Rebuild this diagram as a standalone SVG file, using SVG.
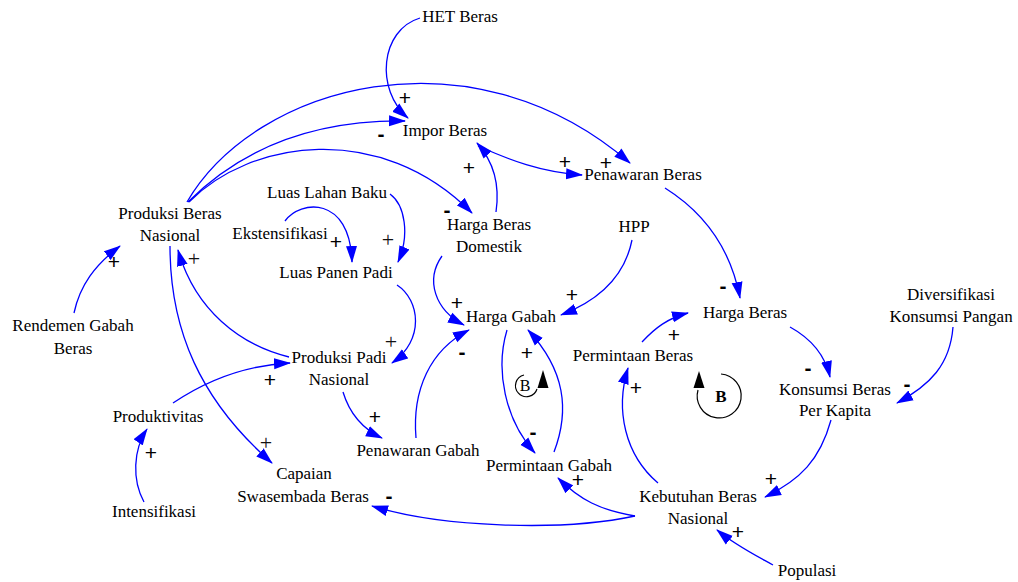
<svg xmlns="http://www.w3.org/2000/svg" width="1018" height="582" viewBox="0 0 1018 582">
<style>
text{font-family:"Liberation Serif","Times New Roman",serif;font-size:17px;fill:#000;text-anchor:middle}
.c path{fill:none;stroke:#0000ff;stroke-width:1.3;marker-end:url(#ah)}
.p{font-family:"Liberation Sans",Arial,sans-serif;font-size:21px;fill:#000}
.pt{font-family:"Liberation Serif","Times New Roman",serif;font-size:22px;fill:#111}
.m{font-family:"Liberation Sans",Arial,sans-serif;font-size:21px;font-weight:bold;fill:#000}
.loop{fill:none;stroke:#000;stroke-width:1.2}
</style>
<defs>
<marker id="ah" markerUnits="userSpaceOnUse" markerWidth="17" markerHeight="12" refX="16" refY="5.5" orient="auto" viewBox="0 0 17 11">
<path d="M0,0 L17,5.5 L0,11 z" fill="#0000ff"/>
</marker>
</defs>
<rect width="1018" height="582" fill="#fff"/>
<g id="connectors" class="c">
<path d="M420,18 C380,30 375,90 408,118"/>
<path d="M188,202 C245,145 320,120 405,121"/>
<path d="M187,202 C255,85 470,25 630,163"/>
<path d="M189,202 C250,140 380,120 472,213"/>
<path d="M478,146 C510,160 540,172 582,175"/>
<path d="M496,212 C500,185 494,162 477,143"/>
<path d="M390,194 C405,205 410,235 398,262"/>
<path d="M285,221 C300,200 350,195 352,262"/>
<path d="M397,285 C420,300 425,340 392,363"/>
<path d="M289,357 C240,345 195,310 178,250"/>
<path d="M170,246 C170,330 200,400 272,463"/>
<path d="M74,313 C80,285 95,265 120,246"/>
<path d="M173,403 C210,378 250,365 290,363"/>
<path d="M144,502 C132,480 133,450 147,429"/>
<path d="M343,392 C350,415 365,430 382,438"/>
<path d="M416,438 C412,390 430,350 469,330"/>
<path d="M442,256 C425,280 435,310 464,325"/>
<path d="M632,240 C625,275 600,300 561,315"/>
<path d="M507,330 C495,370 505,420 535,453"/>
<path d="M554,452 C570,410 565,370 528,330"/>
<path d="M635,516 C600,510 580,500 558,478"/>
<path d="M635,516 C560,532 440,527 372,506"/>
<path d="M658,483 C625,455 615,410 628,368"/>
<path d="M642,342 C655,328 668,318 688,313"/>
<path d="M665,188 C700,210 730,245 740,298"/>
<path d="M790,327 C810,338 825,355 830,377"/>
<path d="M953,327 C950,365 930,385 897,403"/>
<path d="M831,420 C820,460 800,480 765,497"/>
<path d="M773,565 C755,555 735,545 717,530"/>
</g>
<g id="polarities">
<text class="p" x="405" y="105">+</text>
<text class="m" x="381" y="141">-</text>
<text class="p" x="469" y="175">+</text>
<text class="p" x="565" y="169">+</text>
<text class="p" x="606" y="170">+</text>
<text class="m" x="447" y="217">-</text>
<text class="p" x="336" y="249">+</text>
<text class="pt" x="388" y="247">+</text>
<text class="pt" x="194" y="266">+</text>
<text class="pt" x="391" y="349">+</text>
<text class="p" x="270" y="387">+</text>
<text class="p" x="114" y="269">+</text>
<text class="p" x="151" y="460">+</text>
<text class="pt" x="266" y="450">+</text>
<text class="p" x="457" y="310">+</text>
<text class="p" x="572" y="302">+</text>
<text class="m" x="462" y="359">-</text>
<text class="p" x="527" y="360">+</text>
<text class="m" x="533" y="439">-</text>
<text class="p" x="578" y="487">+</text>
<text class="m" x="389" y="503">-</text>
<text class="p" x="375" y="424">+</text>
<text class="m" x="723" y="293">-</text>
<text class="p" x="674" y="342">+</text>
<text class="p" x="636" y="395">+</text>
<text class="m" x="808" y="375">-</text>
<text class="m" x="907" y="391">-</text>
<text class="p" x="771" y="486">+</text>
<text class="p" x="738" y="539">+</text>
</g>
<g id="loop1">
<path class="loop" d="M524,375 A11,11 0 1 0 537,389"/>
<polygon points="537.5,388 548.5,388 543,370" fill="#000"/>
<text x="525" y="391" style="font-size:16px">B</text>
</g>
<g id="loop2">
<path class="loop" d="M698,390 A22,22 0 1 0 721,374"/>
<polygon points="693.5,388 704.5,388 699,371" fill="#000"/>
<text x="721" y="402" style="font-weight:bold;font-size:17px">B</text>
</g>
<g id="het"><text x="460" y="22">HET Beras</text></g>
<g id="impor"><text x="445" y="136">Impor Beras</text></g>
<g id="penawaran_beras"><text x="643" y="180">Penawaran Beras</text></g>
<g id="produksi_beras"><text x="170" y="219">Produksi Beras</text><text x="170" y="241">Nasional</text></g>
<g id="luas_lahan"><text x="327" y="198">Luas Lahan Baku</text></g>
<g id="ekstensifikasi"><text x="280" y="239">Ekstensifikasi</text></g>
<g id="luas_panen"><text x="336" y="278">Luas Panen Padi</text></g>
<g id="harga_beras_domestik"><text x="489" y="230">Harga Beras</text><text x="489" y="252">Domestik</text></g>
<g id="hpp"><text x="634" y="232">HPP</text></g>
<g id="harga_gabah"><text x="511" y="322">Harga Gabah</text></g>
<g id="harga_beras"><text x="745" y="318">Harga Beras</text></g>
<g id="diversifikasi"><text x="951" y="300">Diversifikasi</text><text x="951" y="322">Konsumsi Pangan</text></g>
<g id="permintaan_beras"><text x="633" y="361">Permintaan Beras</text></g>
<g id="konsumsi"><text x="835" y="395">Konsumsi Beras</text><text x="835" y="416">Per Kapita</text></g>
<g id="rendemen"><text x="73" y="331">Rendemen Gabah</text><text x="73" y="354">Beras</text></g>
<g id="produksi_padi"><text x="339" y="363">Produksi Padi</text><text x="339" y="385">Nasional</text></g>
<g id="produktivitas"><text x="158" y="422">Produktivitas</text></g>
<g id="intensifikasi"><text x="154" y="517">Intensifikasi</text></g>
<g id="capaian"><text x="304" y="479">Capaian</text><text x="303" y="502">Swasembada Beras</text></g>
<g id="penawaran_gabah"><text x="418" y="456">Penawaran Gabah</text></g>
<g id="permintaan_gabah"><text x="549" y="471">Permintaan Gabah</text></g>
<g id="kebutuhan"><text x="698" y="502">Kebutuhan Beras</text><text x="698" y="524">Nasional</text></g>
<g id="populasi"><text x="807" y="576">Populasi</text></g>
</svg>
